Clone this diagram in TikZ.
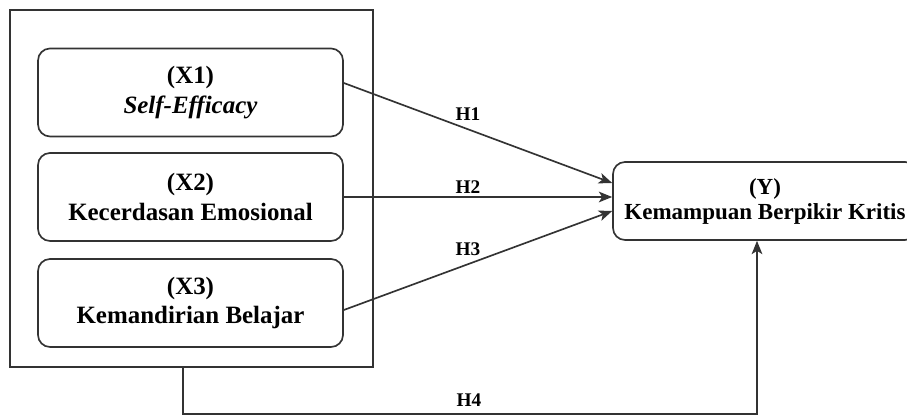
\documentclass[tikz,border=0pt]{standalone}
\usepackage{fontspec}
\setmainfont{Liberation Serif}
\usetikzlibrary{arrows.meta}
\definecolor{linegray}{HTML}{333333}
\tikzset{
  xbox/.style={draw=linegray, line width=1.25pt, rounded corners=9pt, minimum width=228.75pt, minimum height=66pt, align=center, font=\fontsize{18.7pt}{22pt}\selectfont\bfseries, inner sep=0pt},
  ybox/.style={draw=linegray, line width=1.25pt, rounded corners=9pt, minimum width=228pt, minimum height=58.5pt, align=center, font=\fontsize{17.25pt}{18.75pt}\selectfont\bfseries, inner sep=0pt},
  outerbox/.style={draw=linegray, line width=1.25pt, minimum width=272.25pt, minimum height=267.75pt, inner sep=0pt},
  conn/.style={draw=linegray, line width=1.25pt, -{Stealth[length=10pt, width=8pt, inset=2.5pt]}},
  hlabel/.style={font=\fontsize{14.5pt}{16pt}\selectfont\bfseries, inner sep=0pt}
}
\begin{document}
\begin{tikzpicture}[x=0.75pt, y=-0.75pt]
\useasboundingbox (0,0) rectangle (907,416);
\node[outerbox] (outer) at (191.5,188.5) {};
\node[xbox] (X1) at (190.5,92.5) {(X1)\\\textit{Self-Efficacy}};
\node[xbox] (X2) at (190.5,197) {(X2)\\Kecerdasan Emosional};
\node[xbox] (X3) at (190.5,303) {(X3)\\Kemandirian Belajar};
\node[ybox] (Y) at (765,201) {(Y)\\Kemampuan Berpikir Kritis};
\coordinate (c1) at (183,414);
\coordinate (c2) at (757,414);
\draw[conn] (X1.east |- {(0,83)}) -- (Y.west |- {(0,183)});
\draw[conn] (X2.east) -- (Y.west |- X2.east);
\draw[conn] (X3.east |- {(0,310)}) -- (Y.west |- {(0,211)});
\draw[conn] (outer.south -| c1) -- (c1) -- (c2) -- (Y.south -| c2);
\node[hlabel] (h1) at (468,114) {H1};
\node[hlabel] (h2) at (468,187.5) {H2};
\node[hlabel] (h3) at (468,249) {H3};
\node[hlabel] (h4) at (469,400) {H4};
\end{tikzpicture}
\end{document}
